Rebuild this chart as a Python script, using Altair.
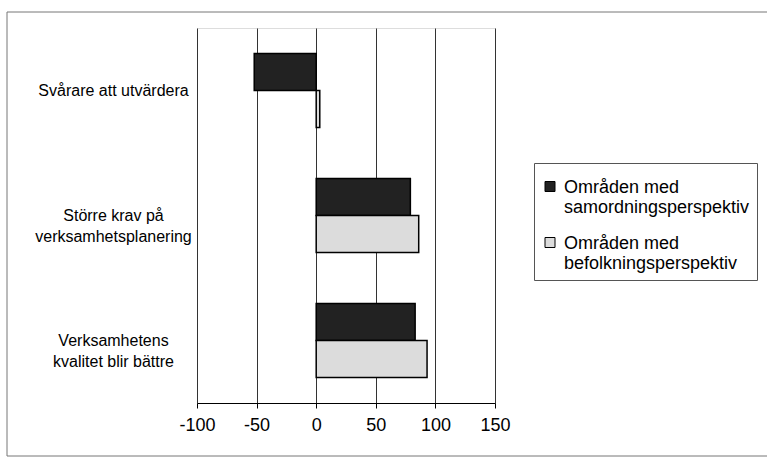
import altair as alt
import pandas as pd

categories = ["Svårare att utvärdera", "Större krav på\nverksamhetsplanering", "Verksamhetens\nkvalitet blir bättre"]
series = ["Områden med\nsamordningsperspektiv", "Områden med\nbefolkningsperspektiv"]
samordning = [-52, 79, 83]
befolkning = [3, 86, 93]
x_ticks = [-100, -50, 0, 50, 100, 150]

rows = []
for c, a, b in zip(categories, samordning, befolkning):
    rows.append({"kategori": c, "serie": series[0], "varde": a})
    rows.append({"kategori": c, "serie": series[1], "varde": b})
df = pd.DataFrame(rows)

FONT = "Liberation Sans"

bars = alt.Chart(df).mark_bar(stroke="black", strokeWidth=1.5).encode(
    x=alt.X("varde:Q", scale=alt.Scale(domain=[-100, 150], nice=False, zero=False),
            axis=alt.Axis(values=x_ticks, title=None, grid=True, gridColor="#333333",
                          gridWidth=1, domainColor="black", tickColor="black",
                          tickSize=5, labelFontSize=18, labelPadding=8,
                          labelFlush=False,
                          labelExpr="datum.value < 0 ? '-' + abs(datum.value) : '' + datum.value",
                          labelColor="black", labelFont=FONT)),
    x2=alt.datum(0),
    y=alt.Y("kategori:N", sort=categories,
            scale=alt.Scale(paddingInner=0.408, paddingOuter=0.204),
            axis=alt.Axis(title=None, domain=False, ticks=False,
                          labelExpr="split(datum.label, '\\n')",
                          labelAlign="center", labelPadding=84,
                          labelBaseline="middle", labelFontSize=16,
                          labelLineHeight=21, labelColor="black",
                          labelFont=FONT, labelLimit=300)),
    yOffset=alt.YOffset("serie:N", sort=series),
    fill=alt.Fill("serie:N", sort=series,
                  scale=alt.Scale(domain=series, range=["#222222", "#dcdcdc"]),
                  legend=alt.Legend(title=None, orient="none", legendX=337, legendY=135,
                                    labelExpr="split(datum.label, '\\n')",
                                    labelBaseline="top", labelFontSize=18,
                                    labelFont=FONT, labelColor="black",
                                    labelLimit=400, labelOffset=5,
                                    symbolType="M-1,0.5H1V2.5H-1Z",
                                    symbolSize=100, symbolStrokeColor="black",
                                    symbolStrokeWidth=1, rowPadding=9,
                                    strokeColor="#555555", padding=7)),
)

frame = alt.Chart(pd.DataFrame({"a": [0]})).mark_rect(
    fill=None, stroke="#777777", strokeWidth=1
).encode(x=alt.value(-190), x2=alt.value(575), y=alt.value(-16), y2=alt.value(428))

chart = alt.layer(frame, bars).properties(
    width=298, height=375,
    autosize=alt.AutoSizeParams(type="none"),
    padding={"left": 197, "top": 28, "right": 272, "bottom": 60},
    background="white",
).configure_view(stroke="black", strokeWidth=1.5).configure(
    font=FONT
)

chart.save("out.html", embed_options={"renderer": "svg", "actions": False})
